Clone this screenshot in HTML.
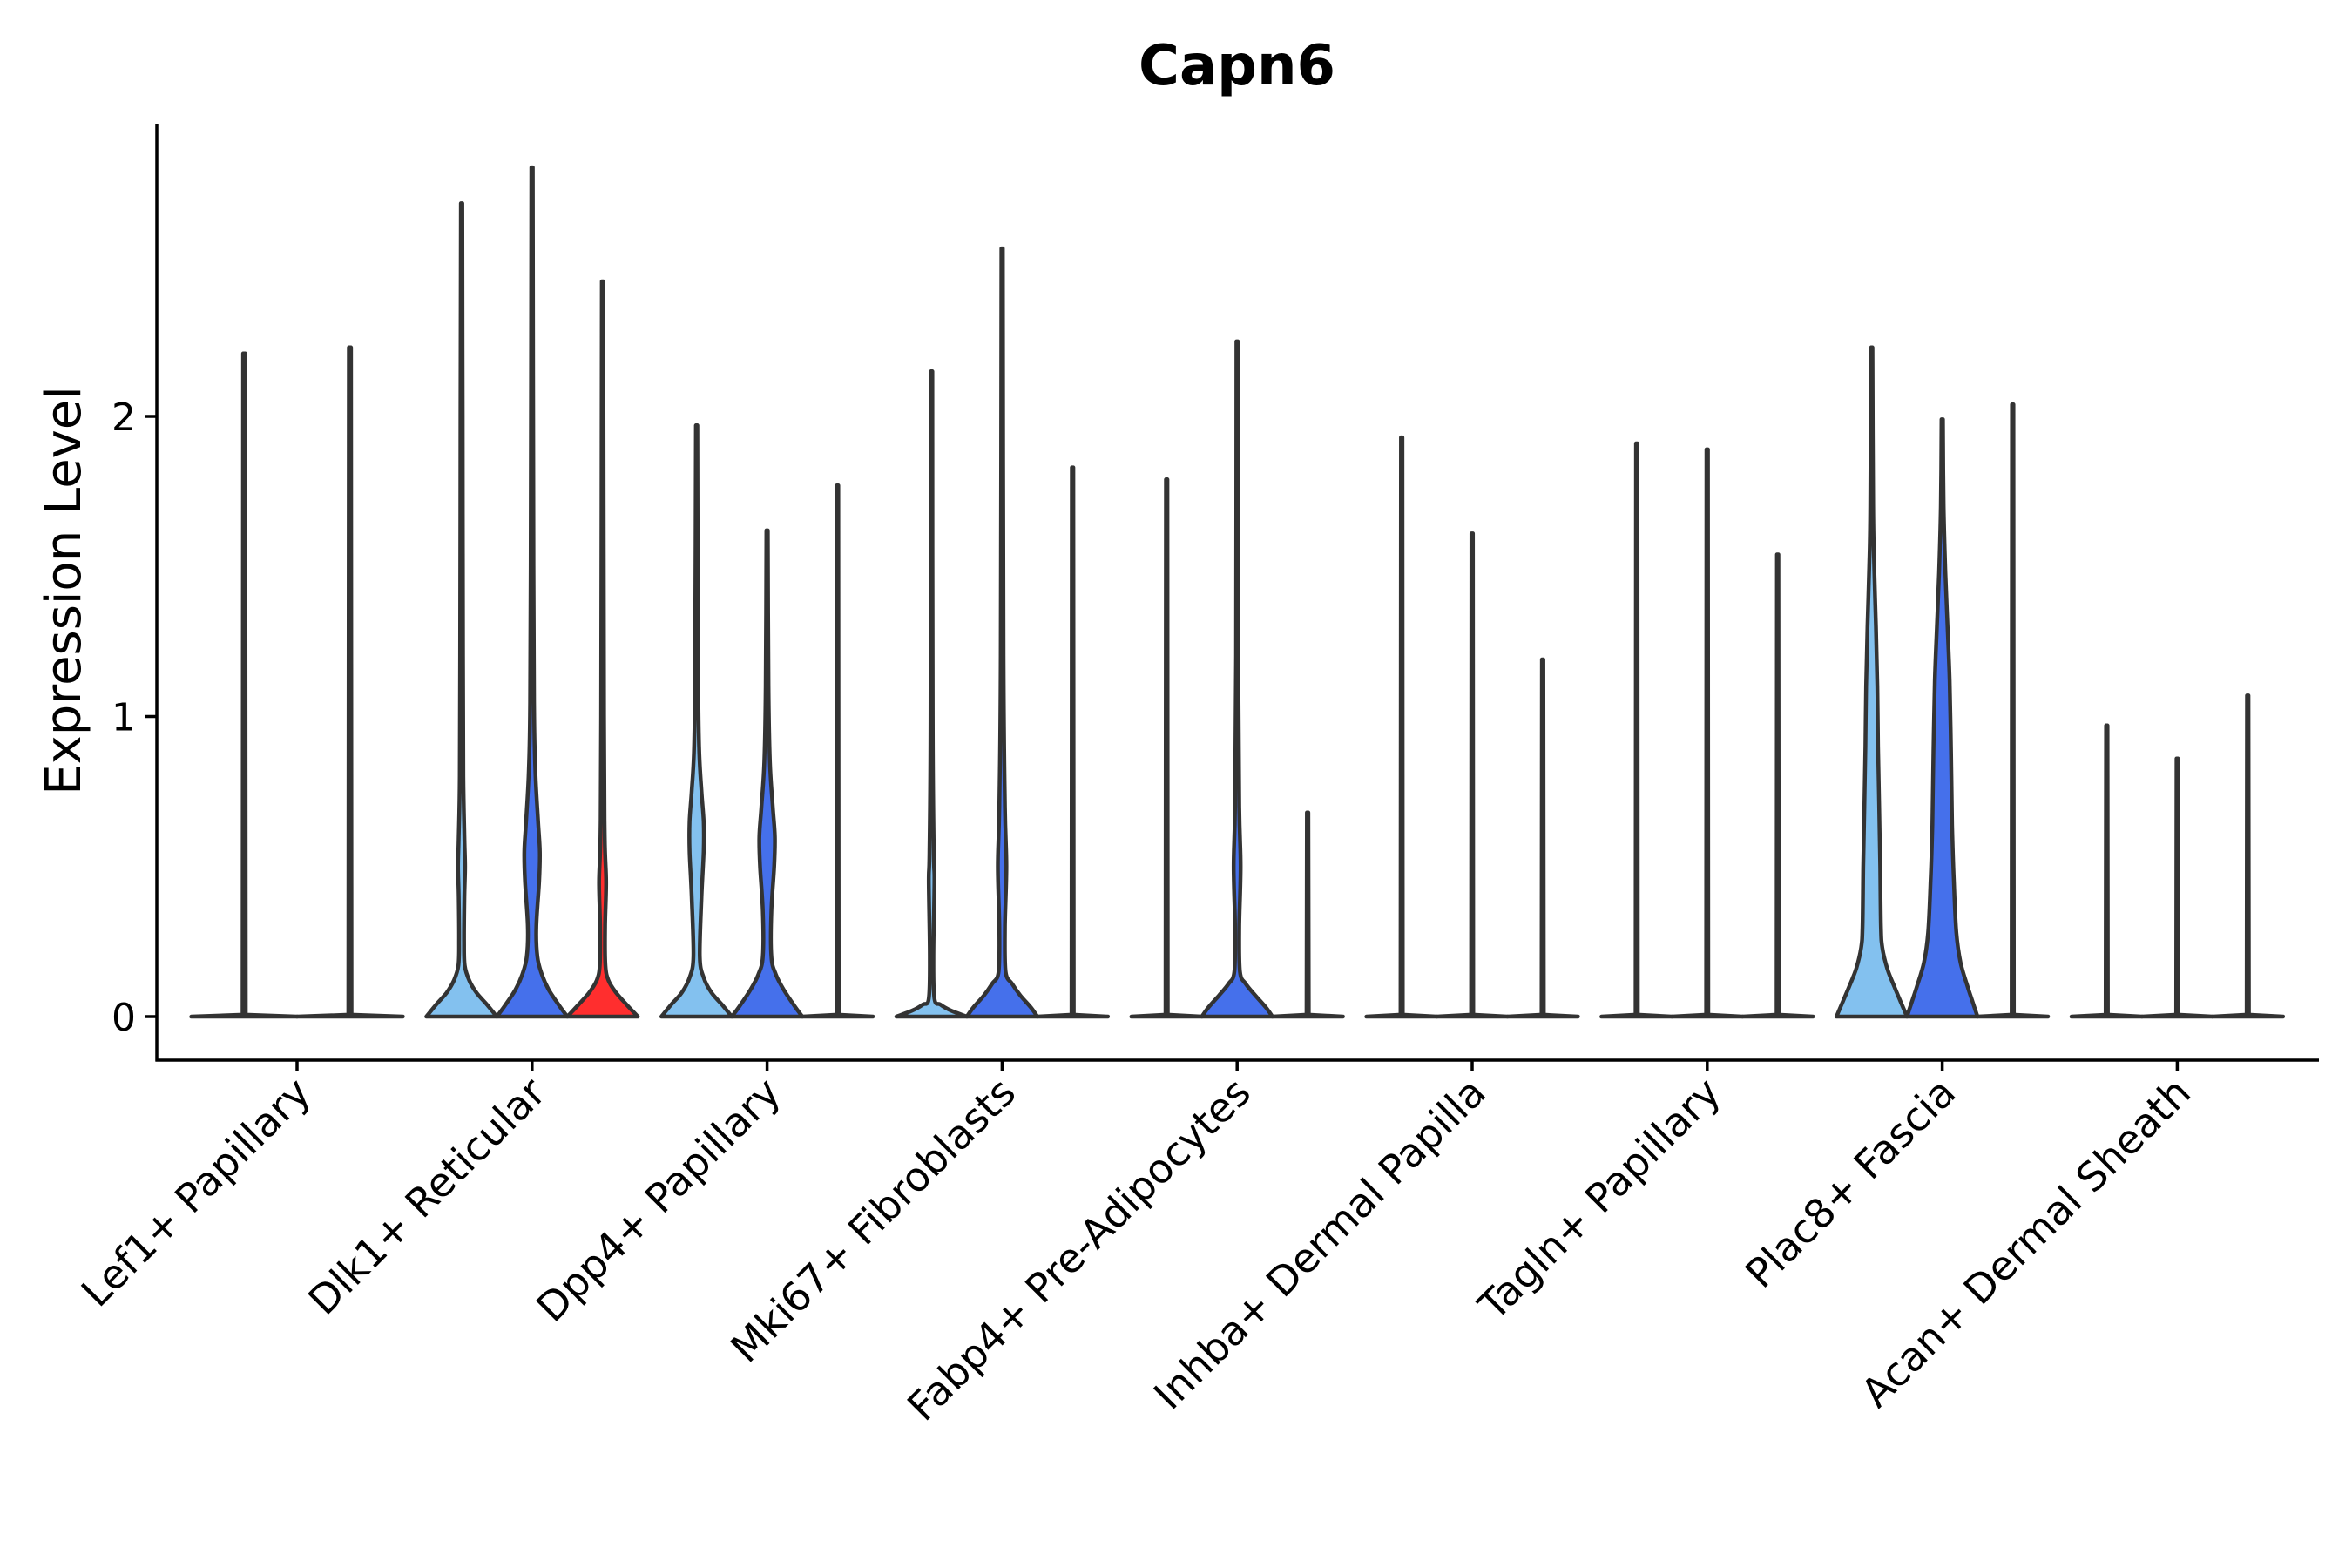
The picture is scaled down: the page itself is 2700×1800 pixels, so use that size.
<!DOCTYPE html>
<html><head><meta charset="utf-8"><style>
body{margin:0;background:#fff}
svg{display:block}
text{font-family:"DejaVu Sans","Liberation Sans",sans-serif;fill:#000}
</style></head><body>
<svg id="chart" width="2700" height="1800" viewBox="0 0 2700 1800" xmlns="http://www.w3.org/2000/svg">
<text x="1420" y="97" font-size="64" font-weight="bold" text-anchor="middle">Capn6</text>
<text transform="translate(92,678) rotate(-90)" font-size="56" text-anchor="middle">Expression Level</text>
<g id="plot"></g>
</svg>
<script>
const categories = ["Lef1+ Papillary","Dlk1+ Reticular","Dpp4+ Papillary","Mki67+ Fibroblasts","Fabp4+ Pre-Adipocytes","Inhba+ Dermal Papilla","Tagln+ Papillary","Plac8+ Fascia","Acan+ Dermal Sheath"];
const yTicks = [0,1,2];
const levelColors = ["#83c1ef","#4570eb","#ff2e2e"];
// per category: list of violins [level, max, density knots [y, relWidth]]
const flat = [[0,1],[0.006,0.03]];
const lef1 = [[0,2.21,flat],[1,2.23,flat]];
const dlk1 = [[0,2.71,[[0,1],[0.04,0.72],[0.08,0.42],[0.12,0.22],[0.17,0.09],[0.25,0.07],[0.4,0.08],[0.5,0.1],[0.6,0.08],[0.8,0.05],[1.2,0.04],[2.0,0.03]]],
              [1,2.83,[[0,1],[0.04,0.75],[0.09,0.47],[0.14,0.28],[0.2,0.15],[0.3,0.12],[0.45,0.2],[0.55,0.22],[0.65,0.17],[0.8,0.1],[1.0,0.06],[1.5,0.04]]],
              [2,2.45,[[0,1],[0.04,0.68],[0.08,0.38],[0.12,0.17],[0.17,0.08],[0.3,0.07],[0.45,0.1],[0.6,0.06],[1.0,0.04]]]];
const dpp4 = [[0,1.97,[[0,1],[0.04,0.72],[0.08,0.42],[0.13,0.2],[0.2,0.09],[0.4,0.14],[0.55,0.2],[0.65,0.2],[0.75,0.14],[0.9,0.07],[1.2,0.04]]],
              [1,1.62,[[0,1],[0.04,0.75],[0.09,0.47],[0.14,0.25],[0.2,0.12],[0.35,0.12],[0.5,0.2],[0.6,0.22],[0.7,0.16],[0.85,0.08],[1.1,0.04]]],
              [2,1.77,flat]];
const mki67 = [[0,2.15,[[0,1],[0.02,0.55],[0.04,0.25],[0.06,0.08],[0.2,0.05],[0.45,0.08],[0.55,0.06],[1,0.03]]],
               [1,2.56,[[0,1],[0.03,0.82],[0.07,0.52],[0.11,0.28],[0.15,0.1],[0.3,0.08],[0.5,0.12],[0.7,0.08],[1.2,0.04]]],
               [2,1.83,flat]];
const fabp4 = [[0,1.79,flat],
               [1,2.25,[[0,1],[0.03,0.82],[0.07,0.52],[0.11,0.24],[0.15,0.08],[0.3,0.06],[0.5,0.1],[0.7,0.06],[1.2,0.03]]],
               [2,0.68,flat]];
const inhba = [[0,1.93,flat],[1,1.61,flat],[2,1.19,flat]];
const tagln = [[0,1.91,flat],[1,1.89,flat],[2,1.54,flat]];
const plac8 = [[0,2.23,[[0,1],[0.05,0.82],[0.1,0.64],[0.16,0.44],[0.23,0.3],[0.3,0.26],[0.5,0.24],[0.7,0.21],[0.9,0.18],[1.1,0.16],[1.3,0.12],[1.5,0.07],[1.7,0.04]]],
               [1,1.99,[[0,1],[0.05,0.86],[0.1,0.72],[0.18,0.52],[0.28,0.4],[0.45,0.33],[0.64,0.28],[0.88,0.25],[1.12,0.21],[1.3,0.15],[1.48,0.09],[1.7,0.04]]],
               [2,2.04,flat]];
const acan = [[0,0.97,flat],[1,0.86,flat],[2,1.07,flat]];
const violins = [lef1,dlk1,dpp4,mki67,fabp4,inhba,tagln,plac8,acan];

const NS="http://www.w3.org/2000/svg";
const plot=document.getElementById('plot');
const X0=180, XR=2662, YB=1217, YT=142;
const Y0=1167, UNIT=344.5;
const step=269.8, first=341;
function xScale(i){return first+step*i;}
function yScale(v){return Y0-v*UNIT;}
function mk(tag,attrs){const e=document.createElementNS(NS,tag);for(const k in attrs)e.setAttribute(k,attrs[k]);plot.appendChild(e);return e;}
function f(p){return p[0].toFixed(1)+","+p[1].toFixed(1);}
function smooth(P,lin){
  let d="";
  for(let i=0;i<P.length-1;i++){
    if(lin){d+="L"+f(P[i+1]);continue;}
    const p0=P[Math.max(i-1,0)],p1=P[i],p2=P[i+1],p3=P[Math.min(i+2,P.length-1)];
    const c1=[p1[0]+(p2[0]-p0[0])/6,p1[1]+(p2[1]-p0[1])/6];
    const c2=[p2[0]-(p3[0]-p1[0])/6,p2[1]-(p3[1]-p1[1])/6];
    d+="C"+f(c1)+" "+f(c2)+" "+f(p2);
  }
  return d;
}

violins.forEach((group,gi)=>{
  const n=group.length, dodge=0.9*step, w=dodge/n;
  group.forEach((v,vi)=>{
    const [lvl,max,knots]=v;
    const lin=knots.length<=2;
    const cx=xScale(gi)-dodge/2+w*(vi+0.5);
    const hw=w/2;
    const pts=knots.filter(k=>k[0]<max).concat([[max,0.02]]);
    const right=pts.map(p=>[cx+Math.max(p[1]*hw,0.8),yScale(p[0])]);
    const left=pts.slice().reverse().map(p=>[cx-Math.max(p[1]*hw,0.8),yScale(p[0])]);
    const d="M"+f(right[0])+smooth(right,lin)+"L"+f(left[0])+smooth(left,lin)+"Z";
    const path=mk('path',{d:d,fill:levelColors[lvl],stroke:'#333','stroke-width':4.5,'stroke-linejoin':'round','stroke-linecap':'round'});
    
    
  });
});

const ya=mk('line',{x1:X0,y1:YT,x2:X0,y2:YB+1.5,stroke:'#000','stroke-width':3.5});


const xa=mk('line',{x1:X0-1.5,y1:YB,x2:XR,y2:YB,stroke:'#000','stroke-width':3.5});



yTicks.forEach(t=>{
  const y=yScale(t);
  const tk=mk('line',{x1:X0-13,y1:y,x2:X0,y2:y,stroke:'#000','stroke-width':3.5});
  
  
  const lb=mk('text',{x:X0-24,y:y+16,'font-size':44,'text-anchor':'end'});
  lb.textContent=t;
  
  
});
categories.forEach((c,i)=>{
  const x=xScale(i);
  const tk=mk('line',{x1:x,y1:YB,x2:x,y2:YB+13,stroke:'#000','stroke-width':3.5});
  
  
  const lb=mk('text',{transform:`translate(${x+18},${YB+40}) rotate(-45)`,'font-size':46,'text-anchor':'end'});
  lb.textContent=c;
  
  
});
</script>
</body></html>
